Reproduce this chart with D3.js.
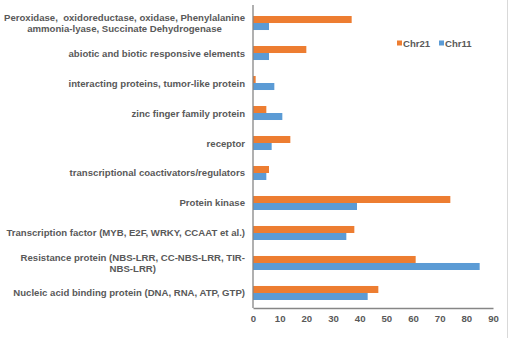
<!DOCTYPE html>
<html>
<head>
<meta charset="utf-8">
<script src="https://cdn.jsdelivr.net/npm/d3@7"></script>
<style>
  body { margin: 0; background: #fff; }
  text { font-family: "Liberation Sans", Arial, sans-serif; font-weight: bold; fill: #595959; white-space: pre; }
</style>
</head>
<body>
<div id="chart"></div>
<script>
// categories, top to bottom (wrapped lines as in the original)
const categories = [
  ["Peroxidase,  oxidoreductase, oxidase, Phenylalanine", "ammonia-lyase, Succinate Dehydrogenase"],
  ["abiotic and biotic responsive elements"],
  ["interacting proteins, tumor-like protein"],
  ["zinc finger family protein"],
  ["receptor"],
  ["transcriptional coactivators/regulators"],
  ["Protein kinase"],
  ["Transcription factor (MYB, E2F, WRKY, CCAAT et al.)"],
  ["Resistance protein (NBS-LRR, CC-NBS-LRR, TIR-", "NBS-LRR)"],
  ["Nucleic acid binding protein (DNA, RNA, ATP, GTP)"]
]
const chr21 = [37, 20, 1, 5, 14, 6, 74, 38, 61, 47]
const chr11 = [6, 6, 8, 11, 7, 5, 39, 35, 85, 43]
const seriesNames = ["Chr21", "Chr11"]
const xTicks = [0, 10, 20, 30, 40, 50, 60, 70, 80, 90]

const W = 509, H = 338
const margin = {top: 8, right: 16, bottom: 30, left: 253}
const width = 493 - margin.left
const height = 308 - margin.top
const fs = "9.6px"

const color = d3.scaleOrdinal().domain(seriesNames).range(["#ED7D31", "#5B9BD5"])

const svg = d3.select("#chart").append("svg")
    .attr("width", W)
    .attr("height", H)

// thin border at the right edge
svg.append("line")
  .attr("x1", W - 1.5).attr("x2", W - 1.5)
  .attr("y1", 0).attr("y2", H)
  .attr("stroke", "#d9d9d9")

const g = svg.append("g")
    .attr("transform", `translate(${margin.left}, ${margin.top})`)

const x = d3.scaleLinear().domain([0, 90]).range([0, width])
const y = d3.scaleBand().domain(d3.range(categories.length)).range([0, height]).paddingInner(0.533).paddingOuter(0.267)
const sub = d3.scaleBand().domain(seriesNames).range([0, y.bandwidth()])

const rows = categories.map(function(c, i) { return {i: i, vals: [chr21[i], chr11[i]]} })

const grp = g.selectAll(".row")
  .data(rows)
  .join("g")
    .attr("transform", function(d) { return `translate(0, ${y(d.i)})` })

grp.selectAll("rect")
  .data(function(d) { return d.vals.map(function(v, k) { return {k: seriesNames[k], v: v} }) })
  .join("rect")
    .attr("x", 0)
    .attr("y", function(d) { return sub(d.k) })
    .attr("height", sub.bandwidth())
    .attr("width", function(d) { return x(d.v) })
    .attr("fill", function(d) { return color(d.k) })

// x axis
const xAxis = g.append("g")
  .attr("transform", `translate(0, ${height})`)
  .call(d3.axisBottom(x).tickValues(xTicks).tickSize(0).tickPadding(7))
xAxis.select(".domain").attr("stroke", "#868686").attr("stroke-width", 1.3)
xAxis.selectAll("text").style("font-size", fs).style("font-family", null)

// y axis line
g.append("line")
  .attr("x1", 0).attr("x2", 0)
  .attr("y1", -3).attr("y2", height)
  .attr("stroke", "#868686").attr("stroke-width", 1.3)

// category labels: single lines right aligned, wrapped lines centred on the first line
const labelRight = -8
const lab = g.selectAll(".lab")
  .data(categories)
  .join("g")
    .attr("class", "lab")
    .attr("transform", function(d, i) { return `translate(0, ${y(i) + y.bandwidth() / 2 - (d.length - 1) * 5.5 + 3.5})` })

lab.each(function(d) {
  const el = d3.select(this)
  const first = el.append("text")
    .attr("x", labelRight)
    .attr("text-anchor", "end")
    .style("font-size", fs)
    .text(d[0])
  if (d.length > 1) {
    const w = first.node().getComputedTextLength()
    d.slice(1).forEach(function(t, k) {
      el.append("text")
        .attr("x", labelRight - w / 2)
        .attr("y", 11 * (k + 1))
        .attr("text-anchor", "middle")
        .style("font-size", fs)
        .text(t)
    })
  }
})

// legend
const legend = svg.selectAll(".leg")
  .data(seriesNames)
  .join("g")
    .attr("transform", function(d, i) { return `translate(${397 + i * 42}, 43)` })
legend.append("rect")
  .attr("x", 0).attr("y", -2.5).attr("width", 5).attr("height", 5)
  .attr("fill", function(d) { return color(d) })
legend.append("text")
  .attr("x", 6).attr("y", 3.5)
  .style("font-size", fs)
  .text(function(d) { return d })
</script>
</body>
</html>
